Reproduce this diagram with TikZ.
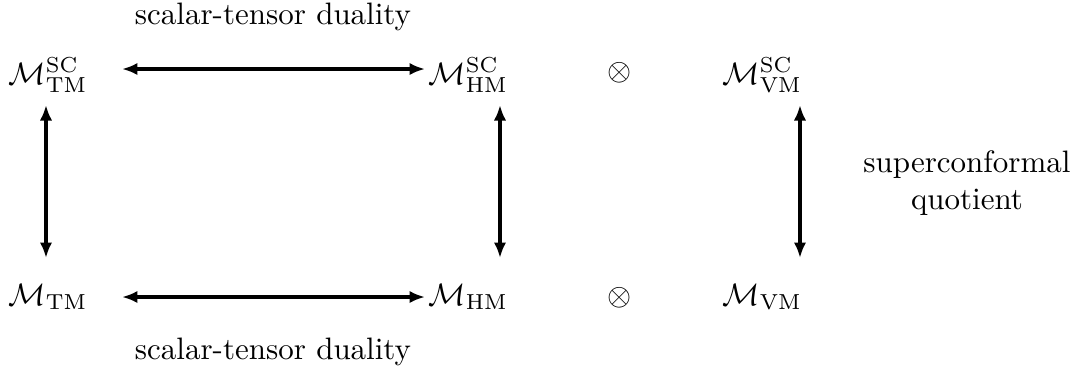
\documentclass[tikz,border=0pt]{standalone}
\usetikzlibrary{arrows.meta}
\begin{document}
\begin{tikzpicture}[x=0.3226pt,y=-0.3226pt,
  obj/.style={inner sep=0pt,anchor=base west},
  lbl/.style={inner sep=0pt,align=center},
  dual/.style={{Latex[length=5pt,width=4pt]}-{Latex[length=5pt,width=4pt]},line width=1.3pt}]
\useasboundingbox (0,0) rectangle (1079,369);
% top row
\node[obj] (tmsc) at (8,84) {$\mathcal{M}^{\mathrm{SC}}_{\mathrm{TM}}$};
\node[obj] (hmsc) at (428,84) {$\mathcal{M}^{\mathrm{SC}}_{\mathrm{HM}}$};
\node[inner sep=0pt] (ot1) at (620,73) {$\otimes$};
\node[obj] (vmsc) at (722,84) {$\mathcal{M}^{\mathrm{SC}}_{\mathrm{VM}}$};
% bottom row
\node[obj] (tm) at (8,305) {$\mathcal{M}_{\mathrm{TM}}$};
\node[obj] (hm) at (428,305) {$\mathcal{M}_{\mathrm{HM}}$};
\node[inner sep=0pt] (ot2) at (620,298) {$\otimes$};
\node[obj] (vm) at (722,305) {$\mathcal{M}_{\mathrm{VM}}$};
% labels
\node[lbl] (l1) at (273,17) {scalar-tensor duality};
\node[lbl] (l2) at (273,352) {scalar-tensor duality};
\node[lbl] (l3) at (967,183) {superconformal\\quotient};
% connector endpoints
\coordinate (a1) at (122,69); \coordinate (b1) at (425,69);
\coordinate (a2) at (122,297); \coordinate (b2) at (425,297);
\coordinate (c1) at (46,105); \coordinate (d1) at (46,258);
\coordinate (c2) at (500,105); \coordinate (d2) at (500,258);
\coordinate (c3) at (800,105); \coordinate (d3) at (800,258);
\draw[dual] (a1) -- (b1);
\draw[dual] (a2) -- (b2);
\draw[dual] (c1) -- (d1);
\draw[dual] (c2) -- (d2);
\draw[dual] (c3) -- (d3);
\end{tikzpicture}
\end{document}
